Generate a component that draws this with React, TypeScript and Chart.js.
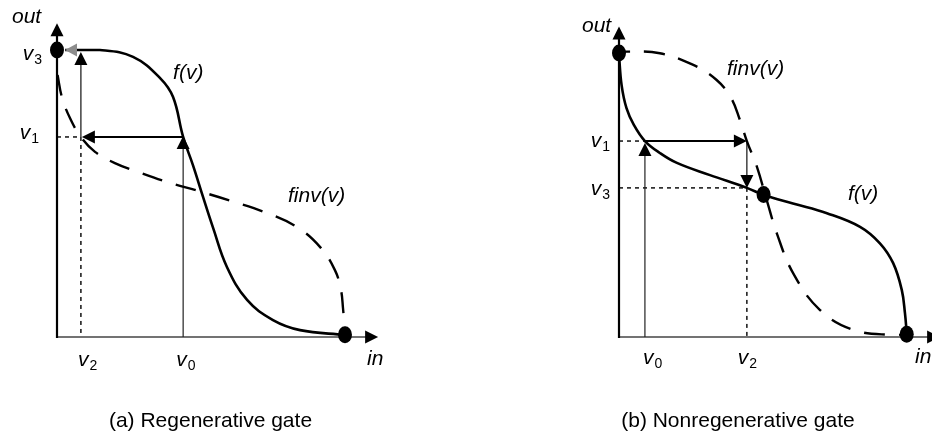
import React, { useEffect, useRef } from "react";
import { Chart, registerables } from "chart.js";

Chart.register(...registerables);

// ---------- Panel (a): Regenerative gate ----------
const regFx = [0.28, 1.49, 2.64, 3.58, 4.03, 4.38, 4.72, 5.07, 5.42, 5.9, 6.6, 7.5, 8.44, 10.0];
const regFy = [10.0, 10.0, 9.76, 9.02, 8.36, 6.97, 5.99, 4.88, 3.8, 2.44, 1.29, 0.59, 0.24, 0.07];
const regInvX = [0.02, 0.17, 0.45, 0.83, 1.32, 2.01, 2.81, 3.82, 4.97, 6.11, 7.29, 8.33, 9.13, 9.65, 9.86, 9.93, 10.0];
const regInvY = [9.13, 8.36, 7.63, 6.97, 6.45, 6.06, 5.75, 5.4, 5.07, 4.72, 4.32, 3.83, 3.14, 2.33, 1.64, 1.01, 0.14];
const regDotX = [0, 10.0];
const regDotY = [10.0, 0.08];
const regLevels = { v0: 4.38, v1: 6.97, v2: 0.83, v3: 10.0 };

// ---------- Panel (b): Nonregenerative gate ----------
const nonFx = [0.0, 0.09, 0.26, 0.52, 0.9, 1.42, 2.01, 3.16, 4.44, 5.03, 6.04, 7.22, 8.37, 9.06, 9.52, 9.82, 9.93, 9.99];
const nonFy = [9.93, 8.87, 8.06, 7.46, 6.9, 6.48, 6.13, 5.7, 5.25, 5.0, 4.7, 4.36, 3.88, 3.3, 2.6, 1.65, 0.83, 0.14];
const nonInvX = [0.0, 0.27, 1.42, 2.58, 3.39, 3.89, 4.2, 4.44, 4.79, 5.13, 5.48, 6.05, 6.98, 8.14, 9.52, 10.0];
const nonInvY = [10.0, 10.05, 9.99, 9.58, 9.05, 8.42, 7.64, 6.9, 5.99, 4.82, 3.65, 2.24, 0.95, 0.25, 0.07, 0.1];
const nonDotX = [0, 5.02, 9.99];
const nonDotY = [10.0, 5.02, 0.1];
const nonLevels = { v0: 0.9, v1: 6.9, v2: 4.44, v3: 5.25 };

const captions = ["(a) Regenerative gate", "(b) Nonregenerative gate"];
const axisTip = { x: 11.15, y: 10.93 };

const FONT = '"Liberation Sans", Arial, Helvetica, sans-serif';

type Pt = { x: number; y: number };
const zip = (xs: number[], ys: number[]): Pt[] => xs.map((x, i) => ({ x, y: ys[i] }));

function head(ctx: CanvasRenderingContext2D, x: number, y: number, dir: string, color = "#000", len = 13, half = 6.5) {
  ctx.save();
  ctx.fillStyle = color;
  ctx.beginPath();
  if (dir === "up") { ctx.moveTo(x, y); ctx.lineTo(x - half, y + len); ctx.lineTo(x + half, y + len); }
  if (dir === "down") { ctx.moveTo(x, y); ctx.lineTo(x - half, y - len); ctx.lineTo(x + half, y - len); }
  if (dir === "left") { ctx.moveTo(x, y); ctx.lineTo(x + len, y - half); ctx.lineTo(x + len, y + half); }
  if (dir === "right") { ctx.moveTo(x, y); ctx.lineTo(x - len, y - half); ctx.lineTo(x - len, y + half); }
  ctx.closePath();
  ctx.fill();
  ctx.restore();
}

function line(ctx: CanvasRenderingContext2D, x1: number, y1: number, x2: number, y2: number, w: number, color = "#000", dash: number[] = []) {
  ctx.save();
  ctx.strokeStyle = color;
  ctx.lineWidth = w;
  ctx.setLineDash(dash);
  ctx.beginPath();
  ctx.moveTo(x1, y1);
  ctx.lineTo(x2, y2);
  ctx.stroke();
  ctx.restore();
}

function vLabel(ctx: CanvasRenderingContext2D, sub: string, x: number, y: number, alignRight: boolean) {
  ctx.font = `italic 21px ${FONT}`;
  const wv = ctx.measureText("v").width;
  ctx.font = `14px ${FONT}`;
  const ws = ctx.measureText(sub).width;
  const x0 = alignRight ? x - wv - ws - 1 : x;
  ctx.font = `italic 21px ${FONT}`;
  ctx.fillText("v", x0, y);
  ctx.font = `14px ${FONT}`;
  ctx.fillText(sub, x0 + wv + 1, y + 4);
}

function italic(ctx: CanvasRenderingContext2D, s: string, x: number, y: number) {
  ctx.font = `italic 21px ${FONT}`;
  ctx.fillText(s, x, y);
}

interface PanelCfg {
  kind: "a" | "b";
  fX: number[]; fY: number[];
  iX: number[]; iY: number[];
  dX: number[]; dY: number[];
  lv: { v0: number; v1: number; v2: number; v3: number };
  caption: string;
  padding: { left: number; right: number; top: number; bottom: number };
  fLabel: Pt; invLabel: Pt;
  dashOffset: number;
}

function makePlugin(cfg: PanelCfg) {
  return {
    id: "gate" + cfg.kind,
    beforeDatasetsDraw(chart: any) {
      const ctx: CanvasRenderingContext2D = chart.ctx;
      const xs = chart.scales.x, ys = chart.scales.y;
      const X = (v: number) => xs.getPixelForValue(v);
      const Y = (v: number) => ys.getPixelForValue(v);
      const ox = X(0), oy = Y(0);
      const { v0, v1, v2, v3 } = cfg.lv;
      // axes
      line(ctx, ox, oy, X(axisTip.x) - 10, oy, 1.5, "#444");
      head(ctx, X(axisTip.x), oy, "right");
      line(ctx, ox, oy + 1, ox, Y(axisTip.y) + 10, 2.2, "#000");
      head(ctx, ox, Y(axisTip.y), "up");
      const dash = [4, 4];
      if (cfg.kind === "a") {
        line(ctx, ox, Y(v1), X(v2), Y(v1), 1.4, "#000", dash);
        line(ctx, X(v2), Y(v1), X(v2), oy, 1.4, "#000", dash);
        line(ctx, X(v0), oy, X(v0), Y(v1) + 10, 1.2, "#222");
        line(ctx, X(v0), Y(v1), X(v2) + 10, Y(v1), 2, "#000");
        line(ctx, X(v2), Y(v1), X(v2), Y(v3) + 12, 1.2, "#111");
      } else {
        line(ctx, ox, Y(v1), X(v0), Y(v1), 1.4, "#000", dash);
        line(ctx, ox, Y(v3), X(v2), Y(v3), 1.4, "#000", dash);
        line(ctx, X(v2), Y(v3), X(v2), oy, 1.4, "#000", dash);
        line(ctx, X(v0), oy, X(v0), Y(v1) + 10, 1.2, "#222");
        line(ctx, X(v0), Y(v1), X(v2) - 10, Y(v1), 2, "#000");
        line(ctx, X(v2), Y(v1), X(v2), Y(v3) - 10, 1.2, "#111");
      }
    },
    afterDatasetsDraw(chart: any) {
      const ctx: CanvasRenderingContext2D = chart.ctx;
      const xs = chart.scales.x, ys = chart.scales.y;
      const X = (v: number) => xs.getPixelForValue(v);
      const Y = (v: number) => ys.getPixelForValue(v);
      const ox = X(0), oy = Y(0);
      const { v0, v1, v2, v3 } = cfg.lv;
      // arrowheads
      if (cfg.kind === "a") {
        head(ctx, X(v0), Y(v1) - 1, "up");
        head(ctx, X(v2) + 1, Y(v1), "left");
        head(ctx, X(v2), Y(v3) + 2, "up");
        line(ctx, ox + 16, Y(v3), X(v2) - 6, Y(v3), 2, "#8c8c8c");
        head(ctx, ox + 8, Y(v3), "left", "#8c8c8c", 12, 6.5);
      } else {
        head(ctx, X(v0), Y(v1) + 2, "up");
        head(ctx, X(v2), Y(v1), "right");
        head(ctx, X(v2), Y(v3), "down");
      }
      // dots
      const meta = chart.getDatasetMeta(2);
      ctx.save();
      ctx.fillStyle = "#000";
      meta.data.forEach((p: any) => {
        ctx.beginPath();
        ctx.ellipse(p.x, p.y, 7, 8.5, 0, 0, Math.PI * 2);
        ctx.fill();
      });
      ctx.restore();
      // labels
      ctx.save();
      ctx.fillStyle = "#000";
      ctx.textAlign = "left";
      ctx.textBaseline = "alphabetic";
      italic(ctx, "f(v)", X(cfg.fLabel.x), Y(cfg.fLabel.y));
      italic(ctx, "finv(v)", X(cfg.invLabel.x), Y(cfg.invLabel.y));
      if (cfg.kind === "a") {
        italic(ctx, "out", ox - 45, Y(axisTip.y));
        italic(ctx, "in", X(axisTip.x) - 11, oy + 28);
        vLabel(ctx, "3", ox - 15, Y(v3) + 10, true);
        vLabel(ctx, "1", ox - 18, Y(v1) + 2, true);
        vLabel(ctx, "2", X(v2) - 3, oy + 29, false);
        vLabel(ctx, "0", X(v0) - 7, oy + 29, false);
      } else {
        italic(ctx, "out", ox - 37, Y(axisTip.y) + 5);
        italic(ctx, "in", X(axisTip.x) - 25, oy + 26);
        vLabel(ctx, "1", ox - 9, Y(v1) + 6, true);
        vLabel(ctx, "3", ox - 9, Y(v3) + 7, true);
        vLabel(ctx, "0", X(v0) - 2, oy + 27, false);
        vLabel(ctx, "2", X(v2) - 9, oy + 27, false);
      }
      ctx.font = `21px ${FONT}`;
      ctx.textAlign = "center";
      const cx = cfg.kind === "a" ? X(5.33) : X(4.13);
      ctx.fillText(cfg.caption, cx, oy + 90);
      ctx.restore();
    },
  };
}

const panels: PanelCfg[] = [
  {
    kind: "a",
    fX: regFx, fY: regFy, iX: regInvX, iY: regInvY, dX: regDotX, dY: regDotY,
    lv: regLevels, caption: captions[0],
    padding: { left: 57, right: 121, top: 50, bottom: 97 },
    fLabel: { x: 4.03, y: 8.99 }, invLabel: { x: 8.02, y: 4.7 },
    dashOffset: 0,
  },
  {
    kind: "b",
    fX: nonFx, fY: nonFy, iX: nonInvX, iY: nonInvY, dX: nonDotX, dY: nonDotY,
    lv: nonLevels, caption: captions[1],
    padding: { left: 153, right: 25, top: 53, bottom: 97 },
    fLabel: { x: 7.95, y: 4.82 }, invLabel: { x: 3.75, y: 9.23 },
    dashOffset: 10,
  },
];

function Panel({ cfg, left }: { cfg: PanelCfg; left: number }) {
  const ref = useRef<HTMLCanvasElement | null>(null);
  useEffect(() => {
    if (!ref.current) return;
    const chart = new Chart(ref.current, {
      type: "scatter",
      data: {
        datasets: [
          {
            label: "f(v)",
            data: zip(cfg.fX, cfg.fY),
            showLine: true,
            borderColor: "#000",
            borderWidth: 2.6,
            pointRadius: 0,
            tension: 0.4,
            clip: false,
          } as any,
          {
            label: "finv(v)",
            data: zip(cfg.iX, cfg.iY),
            showLine: true,
            borderColor: "#000",
            borderWidth: 2.4,
            borderDash: [21, 14],
            borderDashOffset: cfg.dashOffset,
            pointRadius: 0,
            tension: 0.4,
            clip: false,
          } as any,
          {
            label: "points",
            data: zip(cfg.dX, cfg.dY),
            showLine: false,
            pointRadius: 0,
            clip: false,
          } as any,
        ],
      },
      options: {
        responsive: false,
        animation: false,
        events: [],
        layout: { padding: cfg.padding },
        scales: {
          x: { type: "linear", min: 0, max: 10, display: false },
          y: { type: "linear", min: 0, max: 10, display: false },
        },
        plugins: { legend: { display: false }, tooltip: { enabled: false } },
      },
      plugins: [makePlugin(cfg)],
    });
    return () => chart.destroy();
  }, [cfg]);
  return (
    <canvas
      ref={ref}
      width={466}
      height={434}
      style={{ position: "absolute", left, top: 0, width: 466, height: 434 }}
    />
  );
}

export default function App() {
  return (
    <div style={{ position: "fixed", left: 0, top: 0, width: 932, height: 434, background: "#fff", overflow: "hidden" }}>
      <Panel cfg={panels[0]} left={0} />
      <Panel cfg={panels[1]} left={466} />
    </div>
  );
}
